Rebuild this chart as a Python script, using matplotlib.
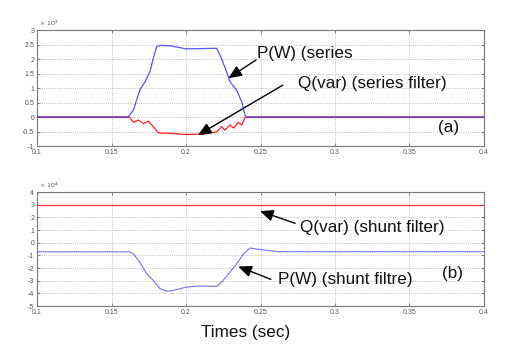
import matplotlib
matplotlib.use('Agg')
import matplotlib.pyplot as plt
from matplotlib.ticker import FormatStrFormatter

plt.rcParams['font.family'] = ['Liberation Sans', 'DejaVu Sans']

# values, in units of 1e4
t_ps = [0.1, 0.161, 0.1647, 0.169, 0.1725, 0.1758, 0.178, 0.1803, 0.183, 0.189, 0.195,
        0.2004, 0.21, 0.2206, 0.2228, 0.2273, 0.2295, 0.234, 0.2374, 0.2396, 0.2407, 0.4]
p_series = [0, 0, 0.24, 0.93, 1.22, 1.56, 2.02, 2.43, 2.47, 2.46, 2.40,
            2.35, 2.36, 2.37, 2.14, 1.56, 1.22, 0.93, 0.53, 0.07, 0, 0]

t_qs = [0.1, 0.162, 0.1647, 0.168, 0.1714, 0.1748, 0.178, 0.1815, 0.189, 0.2004, 0.2116,
        0.2206, 0.224, 0.226, 0.2295, 0.232, 0.2351, 0.2374, 0.2396, 0.241, 0.4]
q_series = [0, 0, -0.18, -0.10, -0.22, -0.14, -0.33, -0.54, -0.56, -0.60, -0.58,
            -0.51, -0.33, -0.45, -0.27, -0.38, -0.18, -0.27, -0.02, 0, 0]

t_psh = [0.1, 0.1624, 0.1647, 0.169, 0.1736, 0.178, 0.1825, 0.187, 0.1915, 0.2004, 0.2094,
         0.2206, 0.225, 0.2295, 0.234, 0.2385, 0.243, 0.2475, 0.2542, 0.262, 0.4]
p_shunt = [-0.72, -0.72, -0.89, -1.54, -2.45, -2.97, -3.62, -3.83, -3.77, -3.5, -3.42,
           -3.45, -2.97, -2.32, -1.67, -0.89, -0.42, -0.5, -0.6, -0.71, -0.71]

t_qsh = [0.1, 0.4]
q_shunt = [3.0, 3.0]

xticks = [0.1, 0.15, 0.2, 0.25, 0.3, 0.35, 0.4]
yticks_a = [-1, -0.5, 0, 0.5, 1, 1.5, 2, 2.5, 3]
yticks_b = [-5, -4, -3, -2, -1, 0, 1, 2, 3, 4]

fig = plt.figure(figsize=(5.12, 3.53), dpi=100)
ax1 = fig.add_axes([0.0723, 0.586, 0.873, 0.329])
ax2 = fig.add_axes([0.0723, 0.133, 0.873, 0.323])


def style(ax, yt):
    ax.set_xlim(0.1, 0.4)
    ax.set_xticks(xticks)
    ax.set_yticks(yt)
    ax.set_ylim(yt[0], yt[-1])
    ax.xaxis.set_major_formatter(FormatStrFormatter('%g'))
    ax.yaxis.set_major_formatter(FormatStrFormatter('%g'))
    ax.grid(True, linestyle=':', color='#aaaaaa', linewidth=0.6, zorder=0)
    ax.set_axisbelow(True)
    ax.tick_params(direction='in', length=2, width=0.5, labelsize=5,
                   colors='#555555', pad=2, top=True, right=True)
    for s in ax.spines.values():
        s.set_color('#777777')
        s.set_linewidth(0.8)
    ax.text(0.005, 1.02, r'$\times\ 10^4$', transform=ax.transAxes,
            fontsize=4.5, color='#555555', va='bottom')


style(ax1, yticks_a)
style(ax2, yticks_b)

ax1.plot(t_qs, q_series, color='#ff2020', lw=0.9, zorder=3)
ax1.plot(t_ps, p_series, color='#1a1aff', lw=0.9, alpha=0.75, zorder=4)

ax2.plot(t_qsh, q_shunt, color='#ff3030', lw=0.9, zorder=3)
ax2.plot(t_psh, p_shunt, color='#4040ff', lw=0.8, alpha=0.75, zorder=4)

arrow = dict(arrowstyle='-|>,head_length=0.8,head_width=0.35', color='black', lw=1.0,
             shrinkA=0, shrinkB=0)
fs = 12.3

ax1.annotate('', xy=(0.2285, 1.34), xytext=(0.247, 1.97), arrowprops=arrow)
ax1.text(0.2475, 2.2, 'P(W) (series', fontsize=fs, va='center', ha='left', color='#111111')
ax1.annotate('', xy=(0.208, -0.62), xytext=(0.2649, 1.10), arrowprops=arrow)
ax1.text(0.2755, 1.15, 'Q(var) (series filter)', fontsize=fs, va='center', ha='left', color='#111111')
ax1.text(0.369, -0.37, '(a)', fontsize=fs, va='center', ha='left', color='#111111')

ax2.annotate('', xy=(0.2497, 2.49), xytext=(0.2733, 1.53), arrowprops=arrow)
ax2.text(0.2765, 1.2, 'Q(var) (shunt filter)', fontsize=fs, va='center', ha='left', color='#111111')
ax2.annotate('', xy=(0.2351, -1.88), xytext=(0.257, -2.89), arrowprops=arrow)
ax2.text(0.2615, -2.9, 'P(W) (shunt filtre)', fontsize=fs, va='center', ha='left', color='#111111')
ax2.text(0.372, -2.45, '(b)', fontsize=fs, va='center', ha='left', color='#111111')

fig.text(246 / 512, 1 - 332 / 353, 'Times (sec)', fontsize=fs, ha='center', va='center',
         color='#111111')

fig.savefig('out.png', dpi=100)
